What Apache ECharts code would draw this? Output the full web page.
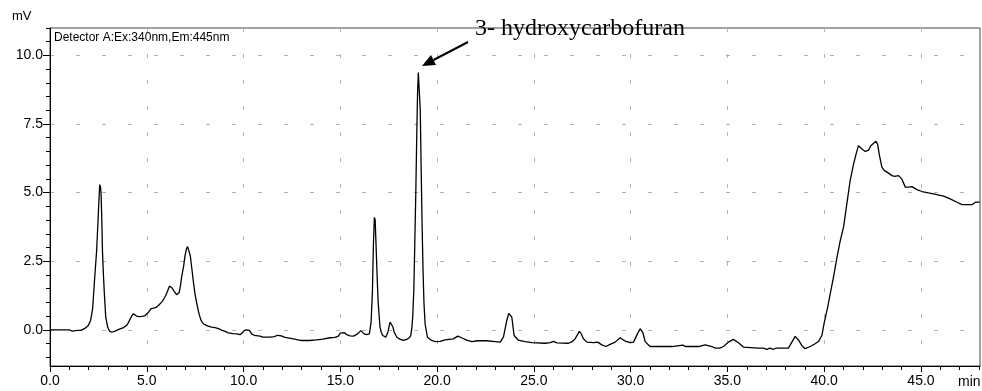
<!DOCTYPE html>
<html>
<head>
<meta charset="utf-8">
<script src="https://cdn.jsdelivr.net/npm/echarts@6/dist/echarts.min.js"></script>
<style>
html,body{margin:0;padding:0;background:#fff;}
#chart{width:982px;height:391px;}
</style>
</head>
<body>
<div id="chart"></div>
<script>
// Retention time (min)
const times = [
0.0,0.5,1.0,1.15,1.25,1.4,1.6,1.8,1.98,2.1,2.2,2.3,2.36,2.41,2.47,2.52,2.57,2.61,2.64,2.68,2.71,2.76,2.81,2.88,2.98,3.08,3.19,3.36,3.62,3.8,3.96,4.05,4.13,4.22,4.3,4.4,4.48,4.6,4.74,4.9,5.0,5.1,5.22,5.35,5.51,5.65,5.77,5.88,5.98,6.08,6.17,6.25,6.3,6.4,6.54,6.62,6.68,6.75,6.8,6.9,6.98,7.05,7.11,7.19,7.25,7.32,7.4,7.49,7.6,7.7,7.8,7.92,8.05,8.18,8.35,8.53,8.7,8.87,9.05,9.21,9.45,9.65,9.82,9.95,10.04,10.17,10.3,10.42,10.55,10.85,11.0,11.37,11.6,11.75,11.85,11.95,12.1,12.35,12.58,12.8,13.0,13.4,13.78,14.1,14.47,14.72,14.9,15.0,15.1,15.2,15.33,15.5,15.68,15.87,16.06,16.15,16.23,16.36,16.5,16.59,16.66,16.71,16.76,16.8,16.83,16.88,16.92,16.96,17.05,17.12,17.19,17.35,17.46,17.57,17.66,17.72,17.78,17.92,18.1,18.26,18.43,18.55,18.64,18.7,18.74,18.8,18.84,18.9,18.95,18.99,19.03,19.1,19.13,19.17,19.22,19.27,19.32,19.38,19.5,19.72,19.9,20.16,20.41,20.84,21.07,21.26,21.53,21.8,22.1,22.57,23.0,23.26,23.43,23.6,23.7,23.77,23.86,23.98,24.2,24.55,24.9,25.58,25.85,26.01,26.19,26.79,27.0,27.13,27.35,27.45,27.56,27.74,28.08,28.3,28.51,28.72,28.94,29.2,29.46,29.6,29.72,29.97,30.15,30.35,30.49,30.63,30.75,31.0,32.13,32.22,32.7,32.82,33.5,33.59,33.85,33.94,34.2,34.37,34.6,34.8,35.05,35.31,35.57,35.83,36.6,36.69,36.85,37.04,37.2,37.38,37.52,38.15,38.33,38.5,38.67,38.84,39.01,39.28,39.53,39.7,39.88,40.0,40.18,40.31,40.48,40.66,40.83,41.0,41.17,41.34,41.52,41.65,41.77,41.95,42.12,42.3,42.41,42.5,42.67,42.76,42.84,42.98,43.1,43.32,43.5,43.65,43.84,44.01,44.19,44.36,44.53,44.79,45.05,45.39,45.82,46.17,46.51,46.86,47.12,47.64,47.81,47.9,48.03
];
// Detector signal (mV)
const signal = [
0.0,0.0,0.0,-0.05,-0.05,-0.02,-0.02,0.05,0.16,0.35,0.75,1.8,2.4,2.89,3.8,4.6,5.29,5.2,4.95,3.9,2.89,2.0,1.31,0.46,0.10,-0.05,-0.09,-0.05,0.03,0.08,0.16,0.26,0.37,0.5,0.58,0.54,0.50,0.48,0.49,0.51,0.55,0.65,0.77,0.79,0.83,0.92,1.01,1.12,1.25,1.42,1.59,1.58,1.53,1.42,1.28,1.28,1.37,1.65,1.92,2.3,2.71,2.95,3.03,2.98,2.7,2.28,1.8,1.31,0.9,0.58,0.35,0.22,0.17,0.13,0.1,0.08,0.04,-0.01,-0.06,-0.11,-0.14,-0.15,-0.18,-0.1,-0.02,0.0,-0.02,-0.15,-0.2,-0.23,-0.27,-0.27,-0.25,-0.2,-0.17,-0.22,-0.27,-0.3,-0.33,-0.37,-0.39,-0.39,-0.37,-0.34,-0.29,-0.28,-0.23,-0.12,-0.06,-0.1,-0.18,-0.22,-0.23,-0.16,-0.03,-0.08,-0.15,-0.18,-0.15,0.28,1.43,3.13,4.1,4.0,3.98,2.4,1.6,0.95,0.10,-0.1,-0.21,-0.27,-0.08,0.28,0.24,0.1,-0.08,-0.27,-0.35,-0.39,-0.35,-0.3,-0.21,0.1,0.46,1.5,2.89,5.0,7.14,8.6,9.38,9.32,8.0,6.17,4.0,2.28,1.0,0.22,-0.27,-0.39,-0.43,-0.42,-0.37,-0.33,-0.23,-0.29,-0.38,-0.43,-0.4,-0.4,-0.43,-0.45,-0.26,0.34,0.6,0.64,0.46,-0.21,-0.38,-0.43,-0.47,-0.49,-0.47,-0.42,-0.48,-0.49,-0.42,-0.33,-0.06,-0.15,-0.33,-0.45,-0.47,-0.45,-0.55,-0.61,-0.53,-0.45,-0.29,-0.36,-0.41,-0.47,-0.45,-0.15,0.04,-0.1,-0.43,-0.61,-0.61,-0.55,-0.56,-0.61,-0.61,-0.55,-0.55,-0.61,-0.61,-0.67,-0.67,-0.61,-0.45,-0.35,-0.47,-0.63,-0.67,-0.71,-0.67,-0.71,-0.67,-0.71,-0.67,-0.67,-0.45,-0.24,-0.37,-0.57,-0.69,-0.61,-0.51,-0.43,-0.21,0.25,0.82,1.31,1.92,2.64,3.25,3.74,4.59,5.44,6.05,6.41,6.71,6.59,6.50,6.55,6.71,6.68,6.87,6.77,6.41,5.93,5.81,5.71,5.62,5.59,5.62,5.50,5.2,5.2,5.22,5.11,5.04,4.99,4.93,4.87,4.77,4.65,4.56,4.56,4.65,4.72,4.65
];
// Axis tick values
const xMajorTicks = [0, 5, 10, 15, 20, 25, 30, 35, 40, 45];
const yMajorTicks = [0, 2.5, 5, 7.5, 10];
const xMinorTicks = [];
for (let i = 1; i <= 48; i++) { if (i % 5 !== 0) xMinorTicks.push(i); }
const yMinorTicks = [];
for (let k = -2; k <= 22; k++) { if (k % 5 !== 0) yMinorTicks.push(k * 0.5); }

const xMin = 0, xMax = 48.05, yMin = -1.32, yMax = 11.0;

const chart = echarts.init(document.getElementById('chart'), null, {renderer: 'canvas'});
const lblFont = 'Liberation Sans, Arial, sans-serif';
const gridDash = {color: '#b4b4b4', width: 1, type: [4, 22]};
const seriesData = times.map((t, i) => [t, signal[i]]);

chart.setOption({
  animation: false,
  backgroundColor: '#fff',
  grid: {left: 50, right: 2, top: 28, bottom: 25, show: true, borderColor: '#444', borderWidth: 1,
         containLabel: false, outerBoundsMode: 'none'},
  xAxis: [
    {type: 'value', min: xMin, max: xMax, position: 'bottom',
     axisLine: {show: true, onZero: false, lineStyle: {color: '#000', width: 1}},
     axisTick: {show: true, customValues: xMajorTicks, length: 6, lineStyle: {color: '#000'}},
     axisLabel: {show: true, customValues: xMajorTicks, margin: 8, color: '#000', fontSize: 14, fontFamily: lblFont,
                 formatter: v => Number(v).toFixed(1)},
     splitLine: {show: true, lineStyle: gridDash}},
    {type: 'value', min: xMin, max: xMax, position: 'bottom',
     axisLine: {show: false, onZero: false},
     axisTick: {show: true, customValues: xMinorTicks, length: 4, lineStyle: {color: '#000'}},
     axisLabel: {show: false}, splitLine: {show: false}}
  ],
  yAxis: [
    {type: 'value', min: yMin, max: yMax, position: 'left',
     axisLine: {show: true, onZero: false, lineStyle: {color: '#000', width: 1}},
     axisTick: {show: true, customValues: yMajorTicks, length: 7, lineStyle: {color: '#000'}},
     axisLabel: {show: true, customValues: yMajorTicks, margin: 7, color: '#000', fontSize: 14, fontFamily: lblFont,
                 formatter: v => Number(v).toFixed(1)},
     splitLine: {show: true, lineStyle: gridDash}},
    {type: 'value', min: yMin, max: yMax, position: 'left',
     axisLine: {show: false, onZero: false},
     axisTick: {show: true, customValues: yMinorTicks, length: 4, lineStyle: {color: '#000'}},
     axisLabel: {show: false}, splitLine: {show: false}}
  ],
  series: [{
    type: 'line', xAxisIndex: 0, yAxisIndex: 0, data: seriesData,
    showSymbol: false, symbol: 'none', smooth: false,
    lineStyle: {color: '#000', width: 1.3}, z: 5
  }],
  graphic: [
    {type: 'text', left: 12, top: 10, style: {text: 'mV', fill: '#000', font: '13px ' + lblFont}},
    {type: 'text', left: 54, top: 32, style: {text: 'Detector A:Ex:340nm,Em:445nm', fill: '#000', font: '12px ' + lblFont}},
    {type: 'text', left: 958, top: 375, style: {text: 'min', fill: '#000', font: '14px ' + lblFont}},
    {type: 'text', left: 475, top: 17, z: 10,
     style: {text: '3- hydroxycarbofuran', fill: '#000', font: '24px "Liberation Serif", "Times New Roman", serif'}},
    {type: 'line', z: 10, shape: {x1: 468, y1: 42, x2: 433.5, y2: 60}, style: {stroke: '#000', lineWidth: 2}},
    {type: 'polygon', z: 10, shape: {points: [[422, 66], [436.0, 64.9], [431.0, 55.1]]}, style: {fill: '#000'}}
  ]
});
</script>
</body>
</html>
